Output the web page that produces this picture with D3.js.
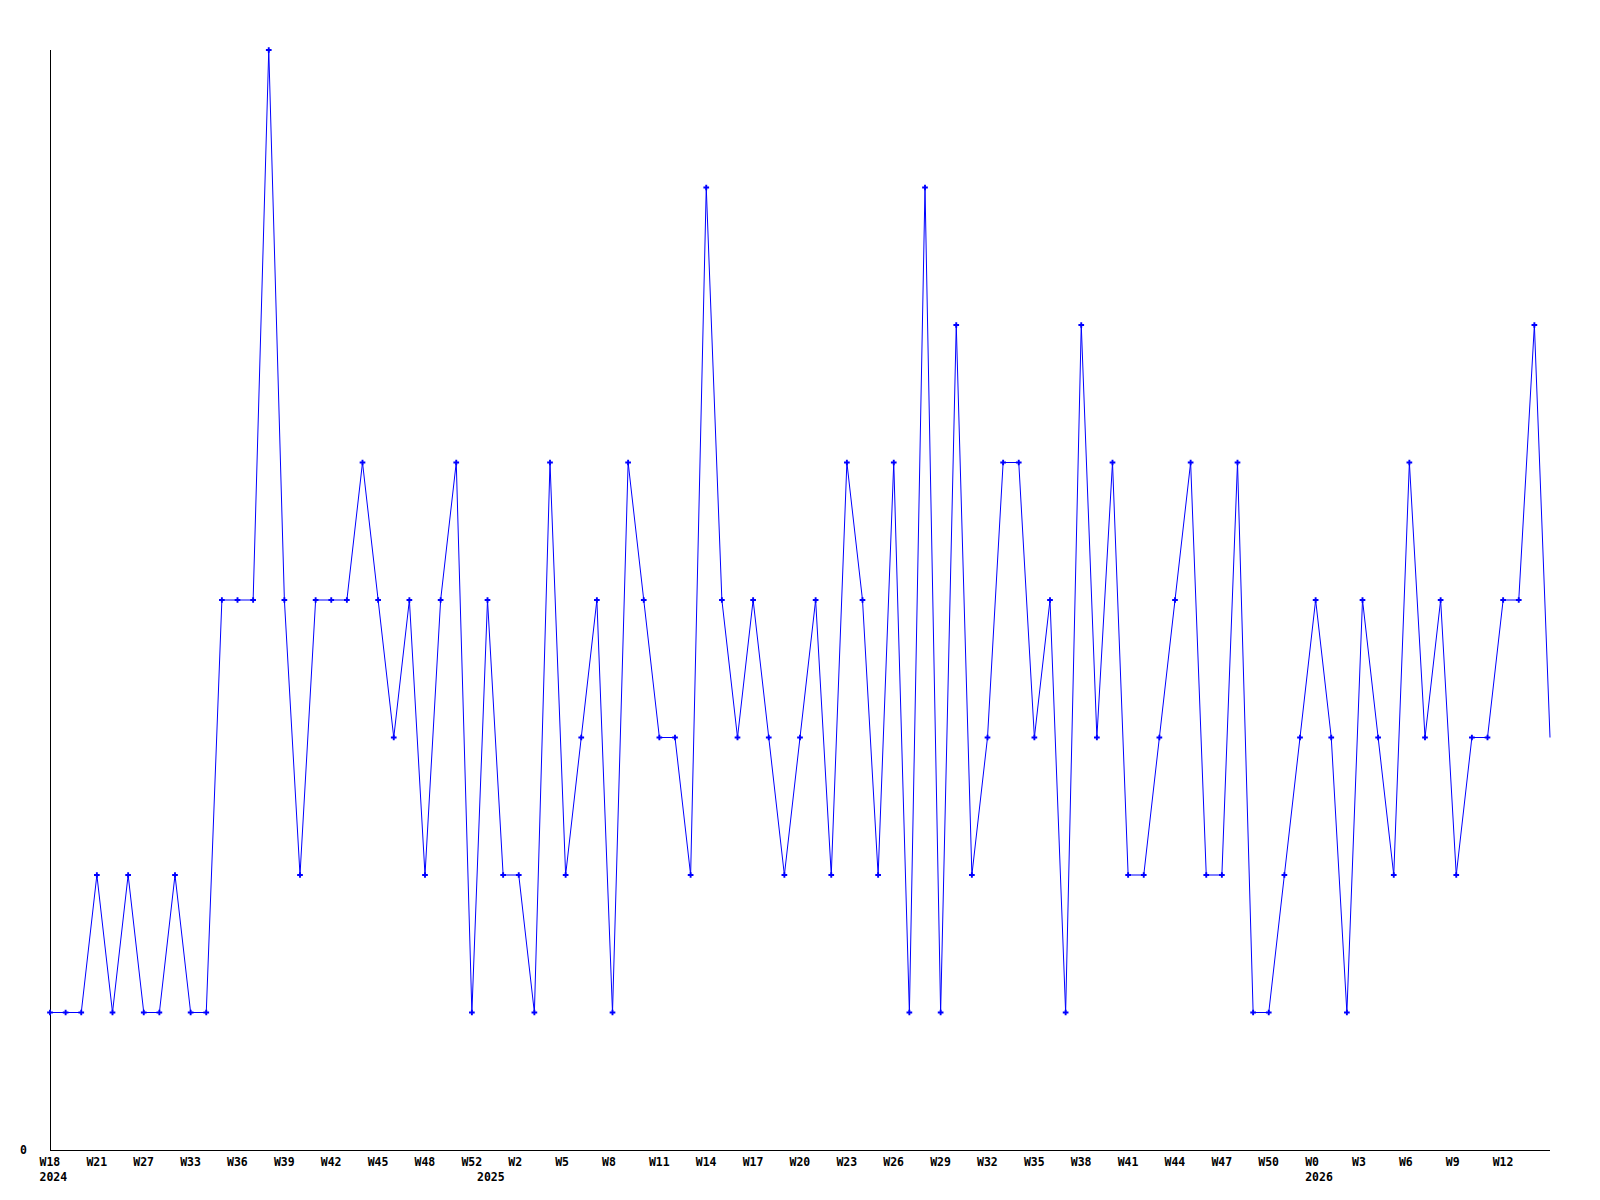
<!DOCTYPE html>
<html>
<head>
<meta charset="utf-8">
<script src="https://cdn.jsdelivr.net/npm/d3@7"></script>
<style>
  body { margin: 0; background: #fff; }
  text { font-family: "DejaVu Sans Mono", monospace; font-weight: bold; font-size: 11.5px; fill: #000; }
</style>
</head>
<body>
<div id="chart"></div>
<script>
// weekly counts, one per point
var counts = [1, 1, 1, 2, 1, 2, 1, 1, 2, 1, 1, 4, 4, 4, 8, 4, 2, 4, 4, 4,
  5, 4, 3, 4, 2, 4, 5, 1, 4, 2, 2, 1, 5, 2, 3, 4, 1, 5, 4, 3,
  3, 2, 7, 4, 3, 4, 3, 2, 3, 4, 2, 5, 4, 2, 5, 1, 7, 1, 6, 2,
  3, 5, 5, 3, 4, 1, 6, 3, 5, 2, 2, 3, 4, 5, 2, 2, 5, 1, 1, 2,
  3, 4, 3, 1, 4, 3, 2, 5, 3, 4, 2, 3, 3, 4, 4, 6, 3];

// tick labels, one every 3rd point
var weekLabels = ["W18", "W21", "W27", "W33", "W36", "W39", "W42", "W45", "W48", "W52",
  "W2", "W5", "W8", "W11", "W14", "W17", "W20", "W23", "W26", "W29",
  "W32", "W35", "W38", "W41", "W44", "W47", "W50", "W0", "W3", "W6", "W9", "W12"];
var tickStep = 3;

var yearLabels = ["2024", "2025", "2026"];
var yearIndex = [0, 28, 81];

var yMax = 8;

var svgWidth = 1600;
var svgHeight = 1200;
var margin = { top: 50, right: 50, bottom: 50, left: 50 };
var width = svgWidth - margin.left - margin.right;
var height = svgHeight - margin.top - margin.bottom;

var svg = d3.select("#chart")
  .append("svg")
  .attr("width", svgWidth)
  .attr("height", svgHeight);

var chartGroup = svg.append("g")
  .attr("transform", `translate(${margin.left}, ${margin.top})`);

var xScale = d3.scaleLinear()
  .domain([0, counts.length - 1])
  .range([0, width]);

var yScale = d3.scaleLinear()
  .domain([0, yMax])
  .range([height, 0]);

// axes lines
chartGroup.append("line")
  .attr("x1", 0).attr("x2", 0)
  .attr("y1", 0).attr("y2", height)
  .attr("stroke", "#000")
  .attr("shape-rendering", "crispEdges");
chartGroup.append("line")
  .attr("x1", 0).attr("x2", width)
  .attr("y1", height).attr("y2", height)
  .attr("stroke", "#000")
  .attr("shape-rendering", "crispEdges");

// y label, only zero
chartGroup.append("text")
  .attr("x", -30)
  .attr("y", yScale(0) + 4)
  .text("0");

// week ticks
chartGroup.selectAll(".wk")
  .data(weekLabels)
  .enter()
  .append("text")
  .attr("class", "wk")
  .attr("x", (d, i) => xScale(i * tickStep) - 10.5)
  .attr("y", height + 16)
  .text(d => d);

chartGroup.selectAll(".yr")
  .data(yearLabels)
  .enter()
  .append("text")
  .attr("class", "yr")
  .attr("x", (d, i) => xScale(yearIndex[i]) - 10.5)
  .attr("y", height + 31)
  .text(d => d);

var line = d3.line()
  .x((d, i) => xScale(i))
  .y(d => yScale(d));

chartGroup.append("path")
  .datum(counts)
  .attr("fill", "none")
  .attr("stroke", "#0000ff")
  .attr("stroke-width", 1)
  .attr("d", line);

// markers on all but the last point
var cross = d3.symbol().type(d3.symbolCross).size(18);
chartGroup.selectAll(".pt")
  .data(counts.slice(0, counts.length - 1))
  .enter()
  .append("path")
  .attr("class", "pt")
  .attr("transform", (d, i) => `translate(${xScale(i)}, ${yScale(d)})`)
  .attr("d", cross)
  .attr("fill", "#0000ff");
</script>
</body>
</html>
